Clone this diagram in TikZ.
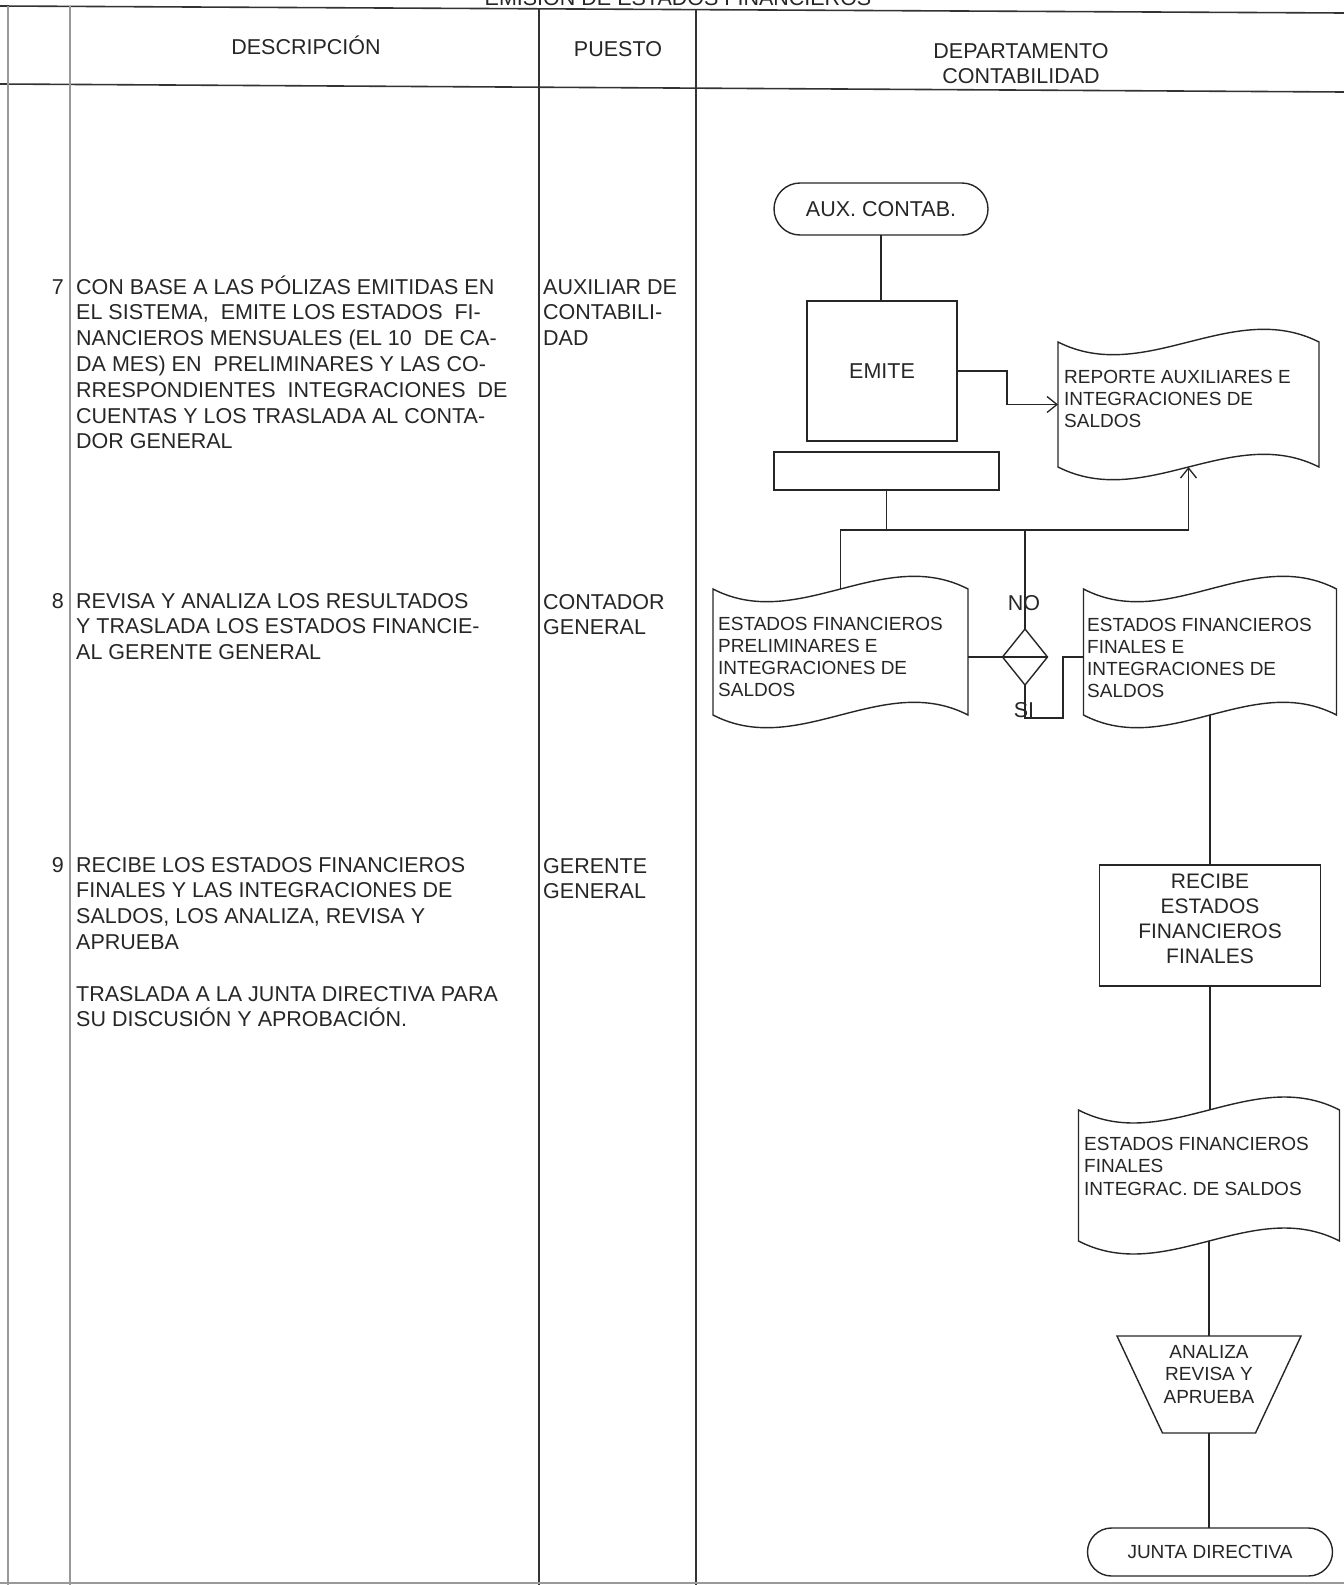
\documentclass[tikz,border=0pt]{standalone}
\usepackage{fontspec}
\setmainfont{Liberation Sans}
\usetikzlibrary{calc,arrows.meta}
\newcommand{\tapepath}[3]{%
  \draw[shp] (#1.north west) .. controls ($(#1.north west)+(#2/3,#3)$) and ($(#1.north east)+(-#2/3,-#3)$) .. (#1.north east)
    -- (#1.south east) .. controls ($(#1.south east)+(-#2/3,-#3)$) and ($(#1.south west)+(#2/3,#3)$) .. (#1.south west) -- cycle;}
\begin{document}
\begin{tikzpicture}[x=1pt,y=-1pt,
  tbl/.style={line width=1.6pt, draw=black!80},
  tbllight/.style={line width=1.4pt, draw=black!40},
  conn/.style={line width=1.3pt, draw=black!85},
  shp/.style={line width=1.4pt, draw=black!85},
  big/.style={font=\fontsize{21.5}{25.8}\selectfont, text=black!85, inner sep=0pt},
  med/.style={font=\fontsize{19}{22.3}\selectfont, text=black!85, inner sep=0pt},
  emptybox/.style={inner sep=0pt, outer sep=0pt},
  procbox/.style={shp, inner sep=0pt, outer sep=0pt},
  termbox/.style={shp, inner sep=0pt, outer sep=0pt},
  >={Straight Barb[length=10pt,width=16pt]}]
\useasboundingbox (0,0) rectangle (1344,1585);

% title (cut by the page top, as in the scan)
\node[big, anchor=base] (title) at (678,5) {EMISIÓN DE ESTADOS FINANCIEROS};

% table
\draw[tbl] (0,6) -- (1344,13);
\draw[tbl] (0,84) -- (1344,92);
\draw[tbllight] (8,6) -- (8,1585);
\draw[tbllight] (70,6) -- (70,1585);
\draw[tbl] (539,9) -- (539,1585);
\draw[tbl] (696,10) -- (696,1585);
\draw[tbllight] (0,1583) -- (1344,1583);

% headers
\node[big, anchor=base] (hdesc) at (306,54) {DESCRIPCIÓN};
\node[big, anchor=base] (hpuesto) at (618,56) {PUESTO};
\node[big, anchor=base, align=center] (hdept) at (1021,83.8) {DEPARTAMENTO\\CONTABILIDAD};

% description column (anchor base = last line)
\node[big, anchor=base east] (n7) at (64,294) {7};
\node[big, anchor=base west, align=left] (d7) at (76,448.8) {CON BASE A LAS PÓLIZAS EMITIDAS EN\\EL SISTEMA,\ \ EMITE LOS ESTADOS\ \ FI-\\NANCIEROS MENSUALES (EL 10\ \ DE CA-\\DA MES) EN\ \ PRELIMINARES Y LAS CO-\\RRESPONDIENTES\ \ INTEGRACIONES\ \ DE\\CUENTAS Y LOS TRASLADA AL CONTA-\\DOR GENERAL};
\node[big, anchor=base east] (n8) at (64,608) {8};
\node[big, anchor=base west, align=left] (d8) at (76,659.6) {REVISA Y ANALIZA LOS RESULTADOS\\Y TRASLADA LOS ESTADOS FINANCIE-\\AL GERENTE GENERAL};
\node[big, anchor=base east] (n9) at (64,872) {9};
\node[big, anchor=base west, align=left] (d9) at (76,1026.8) {RECIBE LOS ESTADOS FINANCIEROS\\FINALES Y LAS INTEGRACIONES DE\\SALDOS, LOS ANALIZA, REVISA Y\\APRUEBA\\[25.8pt]TRASLADA A LA JUNTA DIRECTIVA PARA\\SU DISCUSIÓN Y APROBACIÓN.};

% puesto column
\node[big, anchor=base west, align=left] (p7) at (543,345.6) {AUXILIAR DE\\CONTABILI-\\DAD};
\node[big, anchor=base west, align=left] (p8) at (543,634.8) {CONTADOR\\GENERAL};
\node[big, anchor=base west, align=left] (p9) at (543,898.8) {GERENTE\\GENERAL};

% flowchart shapes
\node[termbox, big, rounded corners=26pt, minimum width=214pt, minimum height=52pt] (aux) at (881,209) {AUX. CONTAB.};
\node[procbox, big, minimum width=150pt, minimum height=140pt] (emite) at (882,371) {EMITE};
\node[procbox, minimum width=225pt, minimum height=38pt] (bar) at (886.5,471) {};

\node[emptybox, minimum width=261pt, minimum height=125pt] (rep) at (1188.5,404.5) {};
\tapepath{rep}{261}{44}
\node[med, anchor=base west, align=left] (rept) at (1064,427.6) {REPORTE AUXILIARES E\\INTEGRACIONES DE\\SALDOS};

\node[emptybox, minimum width=255pt, minimum height=126pt] (pre) at (840.5,652) {};
\tapepath{pre}{255}{44}
\node[med, anchor=base west, align=left] (pret) at (718,696.9) {ESTADOS FINANCIEROS\\PRELIMINARES E\\INTEGRACIONES DE\\SALDOS};

\node[emptybox, minimum width=253pt, minimum height=126pt] (fin) at (1210,652) {};
\tapepath{fin}{253}{44}
\node[med, anchor=base west, align=left] (fint) at (1087,697.9) {ESTADOS FINANCIEROS\\FINALES E\\INTEGRACIONES DE\\SALDOS};

\node[emptybox, minimum width=45pt, minimum height=56pt] (dia) at (1025,657) {};
\draw[shp] (dia.north) -- (dia.east) -- (dia.south) -- (dia.west) -- cycle;

\node[procbox, minimum width=221pt, minimum height=121pt] (rec) at (1210,925.5) {};
\node[big, anchor=base, align=center, font=\fontsize{21}{25}\selectfont] (rect) at (1210,963.5) {RECIBE\\ESTADOS\\FINANCIEROS\\FINALES};

\node[emptybox, minimum width=261pt, minimum height=131pt] (fin2) at (1209,1175.5) {};
\tapepath{fin2}{261}{45}
\node[med, anchor=base west, align=left, font=\fontsize{19}{22.7}\selectfont] (fin2t) at (1084,1195.4) {ESTADOS FINANCIEROS\\FINALES\\INTEGRAC. DE SALDOS};

\node[emptybox, minimum width=184pt, minimum height=97pt] (ana) at (1209,1384.5) {};
\draw[shp] (ana.north west) -- (ana.north east) -- ($(ana.south east)+(-45.5,0)$) -- ($(ana.south west)+(45.5,0)$) -- cycle;
\node[med, anchor=base, align=center, font=\fontsize{19}{22.5}\selectfont] (anat) at (1209,1403) {ANALIZA\\REVISA Y\\APRUEBA};

\node[termbox, med, rounded corners=24pt, minimum width=245pt, minimum height=48pt] (junta) at (1210,1552) {JUNTA DIRECTIVA};

% labels
\node[big, anchor=base] (nolab) at (1024,610.5) {NO};
\node[big, anchor=base] (silab) at (1024,717.5) {SI};

% connectors
\coordinate (j) at (887,530);
\coordinate (e1) at (1007,0);
\coordinate (s1) at (1063,718);
\draw[conn] (aux.south) -- (aux.south |- emite.north);
\draw[conn,->] (emite.east) -| (e1 |- rep.west) -- (rep.west);
\draw[conn] (bar.south) -- (bar.south |- j);
\draw[conn] (pre.north) -- (pre.north |- j) -- (rep.south |- j);
\draw[conn,->] (rep.south |- j) -- (rep.south);
\draw[conn] (dia.north |- j) -- (dia.north);
\draw[conn] (pre.east |- dia) -- (dia.east);
\draw[conn] (dia.south) |- (s1) |- (fin.west |- dia);
\draw[conn] (fin.south) -- (rec.north);
\draw[conn] (rec.south) -- (rec.south |- fin2.north);
\draw[conn] (fin2.south) -- (fin2.south |- ana.north);
\draw[conn] (ana.south) -- (ana.south |- junta.north);
\end{tikzpicture}
\end{document}
